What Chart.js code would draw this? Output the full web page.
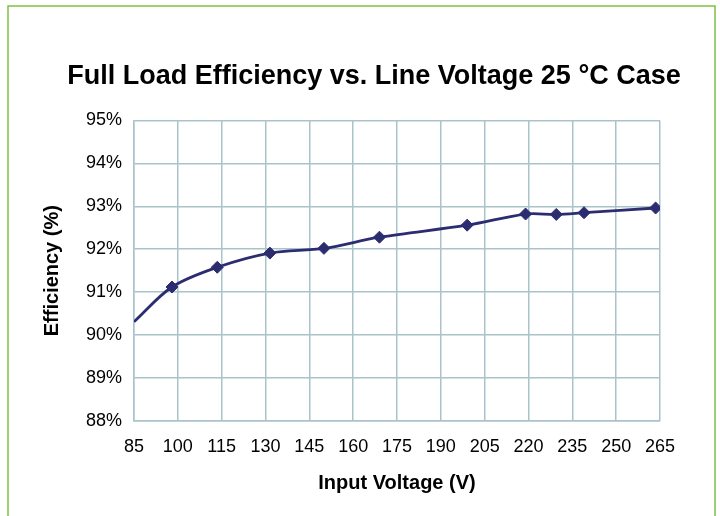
<!DOCTYPE html>
<html>
<head>
<meta charset="utf-8">
<script src="https://cdn.jsdelivr.net/npm/chart.js@4.4.1/dist/chart.umd.min.js"></script>
<style>
  html, body { margin: 0; padding: 0; background: #ffffff; }
  #wrap { width: 720px; height: 516px; position: relative; }
</style>
</head>
<body>
<div id="wrap"><canvas id="c" width="720" height="516"></canvas></div>
<script>
const chartTitle = 'Full Load Efficiency vs. Line Voltage 25 °C Case';
const xAxisTitle = 'Input Voltage (V)';
const yAxisTitle = 'Efficiency (%)';
const inputVoltage = [85, 98, 113.5, 131.5, 150, 169, 199, 219, 229.5, 239, 263.5];
const efficiency = [90.31, 91.12, 91.58, 91.91, 92.02, 92.28, 92.56, 92.82, 92.81, 92.85, 92.96];
const markerShown = [false, true, true, true, true, true, true, true, true, true, true];
const xTicks = [85, 100, 115, 130, 145, 160, 175, 190, 205, 220, 235, 250, 265];
const yTicks = [88, 89, 90, 91, 92, 93, 94, 95];

const points = inputVoltage.map((v, i) => ({ x: v, y: efficiency[i] }));
const FONT = "'Liberation Sans', Arial, sans-serif";
const GRID = '#aac3ca';
const LINE = '#2b2d70';

const frame = {
  id: 'frame',
  beforeDraw(chart) {
    const ctx = chart.ctx;
    ctx.save();
    ctx.fillStyle = '#ffffff';
    ctx.fillRect(0, 0, chart.width, chart.height);
    ctx.strokeStyle = '#7cc143';
    ctx.lineWidth = 1.5;
    ctx.strokeRect(8, 6, 707, 530);
    ctx.restore();
  },
  afterLayout(chart) {
    if (chart.titleBlock) { chart.titleBlock.left += 34; chart.titleBlock.right += 34; }
  }
};

new Chart(document.getElementById('c'), {
  type: 'line',
  data: {
    datasets: [{
      data: points,
      borderColor: LINE,
      backgroundColor: LINE,
      borderWidth: 2.8,
      tension: 0.33,
      pointStyle: 'rectRot',
      pointRadius: markerShown.map(s => s ? 6 : 0),
      pointHoverRadius: markerShown.map(s => s ? 6 : 0),
      pointBorderWidth: 1,
      fill: false
    }]
  },
  options: {
    responsive: false,
    animation: false,
    events: [],
    layout: { padding: { left: 20, right: 60, top: 0, bottom: 10 } },
    plugins: {
      legend: { display: false },
      tooltip: { enabled: false },
      title: {
        display: true,
        text: chartTitle,
        color: '#000000',
        font: { family: FONT, size: 27, weight: 'bold', lineHeight: 1.2 },
        padding: { top: 60, bottom: 28 }
      }
    },
    scales: {
      x: {
        type: 'linear',
        min: 85, max: 265,
        afterBuildTicks(scale) { scale.ticks = xTicks.map(v => ({ value: v })); },
        afterFit(scale) { scale.height = 85; },
        grid: { color: GRID, lineWidth: 1.5, drawTicks: false },
        border: { color: GRID, width: 1.5 },
        ticks: {
          color: '#000000',
          padding: 15,
          maxRotation: 0,
          autoSkip: false,
          font: { family: FONT, size: 18 },
          callback: v => String(v)
        },
        title: {
          display: true,
          text: xAxisTitle,
          color: '#000000',
          font: { family: FONT, size: 20, weight: 'bold', lineHeight: 1.2 },
          padding: { top: 0, bottom: 11 }
        }
      },
      y: {
        type: 'linear',
        min: 88, max: 95,
        afterBuildTicks(scale) { scale.ticks = yTicks.map(v => ({ value: v })); },
        afterFit(scale) { scale.width = 114; },
        grid: { color: GRID, lineWidth: 1.5, drawTicks: false },
        border: { color: GRID, width: 1.5 },
        ticks: {
          color: '#000000',
          padding: 12,
          autoSkip: false,
          font: { family: FONT, size: 18 },
          callback: v => v + '%'
        },
        title: {
          display: true,
          text: yAxisTitle,
          color: '#000000',
          font: { family: FONT, size: 20, weight: 'bold', lineHeight: 1.2 },
          padding: { top: 20, bottom: 0 }
        }
      }
    }
  },
  plugins: [frame]
});
</script>
</body>
</html>
